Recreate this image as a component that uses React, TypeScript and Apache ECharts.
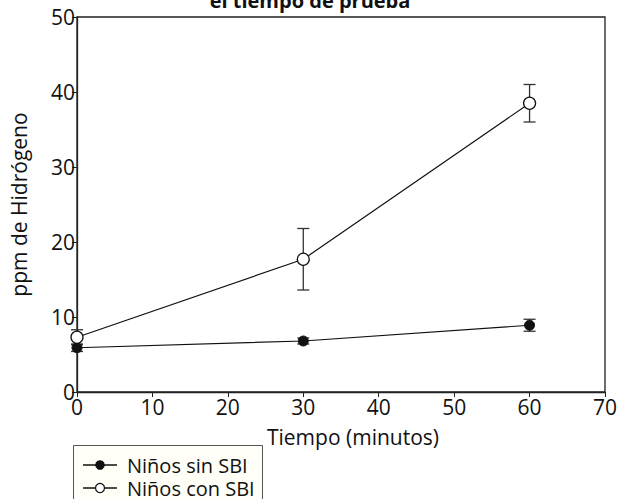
import React, { useEffect, useRef } from "react";
import * as echarts from "echarts";

const times = [0, 30, 60];
const seriesNames = ["Niños sin SBI", "Niños con SBI"];
const sinSBI = [5.9, 6.8, 8.9];
const sinSBIErr = [0.5, 0.4, 0.8];
const conSBI = [7.3, 17.7, 38.5];
const conSBIErr = [1.0, 4.1, 2.5];
const xTicks = [0, 10, 20, 30, 40, 50, 60, 70];
const yTicks = [0, 10, 20, 30, 40, 50];

const FONT = "'Open Sans', Lato, sans-serif";

function errSeries(vals: number[], errs: number[], capW: number) {
  return {
    type: "custom",
    silent: true,
    z: 1,
    data: times.map((t, i) => [t, vals[i] - errs[i], vals[i] + errs[i]]),
    renderItem: (params: any, api: any) => {
      const x = api.value(0);
      const lo = api.coord([x, api.value(1)]);
      const hi = api.coord([x, api.value(2)]);
      const st = { stroke: "#333", lineWidth: 1.3 };
      return {
        type: "group",
        children: [
          { type: "line", shape: { x1: lo[0], y1: lo[1], x2: hi[0], y2: hi[1] }, style: st },
          { type: "line", shape: { x1: lo[0] - capW, y1: lo[1], x2: lo[0] + capW, y2: lo[1] }, style: st },
          { type: "line", shape: { x1: hi[0] - capW, y1: hi[1], x2: hi[0] + capW, y2: hi[1] }, style: st },
        ],
      };
    },
  };
}

function legendItem(y: number, name: string, filled: boolean) {
  return [
    { type: "line", shape: { x1: 83, y1: y, x2: 117, y2: y }, style: { stroke: "#111", lineWidth: 1.3 } },
    {
      type: "circle",
      shape: { cx: 100, cy: y, r: filled ? 4.2 : 4.5 },
      style: { fill: filled ? "#111" : "#ffffff", stroke: "#111", lineWidth: 1.2 },
    },
    {
      type: "text",
      x: 127,
      y: y,
      style: {
        text: name,
        fontFamily: FONT,
        fontSize: 20,
        lineHeight: 20,
        fill: "#111",
        verticalAlign: "middle",
      },
    },
  ];
}

export default function App() {
  const ref = useRef<HTMLDivElement>(null);
  useEffect(() => {
    const chart = echarts.init(ref.current!, null, { renderer: "svg" });
    chart.setOption({
      animation: false,
      backgroundColor: "#ffffff",
      textStyle: { fontFamily: FONT },
      title: {
        text: "el tiempo de prueba",
        left: "center",
        top: -15,
        textStyle: { fontFamily: FONT, fontSize: 20, fontWeight: "bold", color: "#111" },
      },
      grid: { left: 73, right: 11, top: 17, bottom: 107, show: true, borderColor: "#222", borderWidth: 1.3 },
      xAxis: {
        type: "value",
        min: 0,
        max: 70,
        interval: 10,
        name: "Tiempo (minutos)",
        nameLocation: "middle",
        nameGap: 34,
        nameTextStyle: { fontFamily: FONT, fontSize: 21, color: "#111", padding: [0, 0, 0, 24] },
        axisLine: { onZero: false, lineStyle: { color: "#222", width: 1.3 } },
        axisTick: { show: true, length: 5, lineStyle: { color: "#222" } },
        axisLabel: { fontFamily: FONT, fontSize: 21, color: "#111", margin: 4, formatter: (v: number) => (xTicks.includes(v) ? String(v) : "") },
        splitLine: { show: false },
      },
      yAxis: {
        type: "value",
        min: 0,
        max: 50,
        interval: 10,
        name: "ppm de Hidrógeno",
        nameLocation: "middle",
        nameGap: 48,
        nameTextStyle: { fontFamily: FONT, fontSize: 21, color: "#111" },
        axisLine: { show: true, lineStyle: { color: "#222", width: 1.3 } },
        axisTick: { show: true, length: 5, lineStyle: { color: "#222" } },
        axisLabel: { fontFamily: FONT, fontSize: 21, color: "#111", margin: 2, formatter: (v: number) => (yTicks.includes(v) ? String(v) : "") },
        splitLine: { show: false },
      },
      graphic: [
        {
          type: "rect",
          shape: { x: 73.5, y: 445.5, width: 189, height: 70 },
          style: { fill: "#fffff8", stroke: "#555", lineWidth: 1 },
        },
        ...legendItem(465, seriesNames[0], true),
        ...legendItem(488, seriesNames[1], false),
      ],
      series: [
        errSeries(sinSBI, sinSBIErr, 6),
        errSeries(conSBI, conSBIErr, 6),
        {
          name: seriesNames[0],
          type: "line",
          z: 3,
          data: times.map((t, i) => [t, sinSBI[i]]),
          symbol: "circle",
          symbolSize: 10,
          lineStyle: { color: "#111", width: 1.2 },
          itemStyle: { color: "#111", borderColor: "#111", borderWidth: 1 },
        },
        {
          name: seriesNames[1],
          type: "line",
          z: 3,
          data: times.map((t, i) => [t, conSBI[i]]),
          symbol: "circle",
          symbolSize: 12,
          lineStyle: { color: "#111", width: 1.2 },
          itemStyle: { color: "#ffffff", borderColor: "#111", borderWidth: 1.3 },
        },
      ],
    });
    return () => chart.dispose();
  }, []);
  return <div ref={ref} style={{ width: 620, height: 499, position: "absolute", left: 0, top: 0 }} />;
}
